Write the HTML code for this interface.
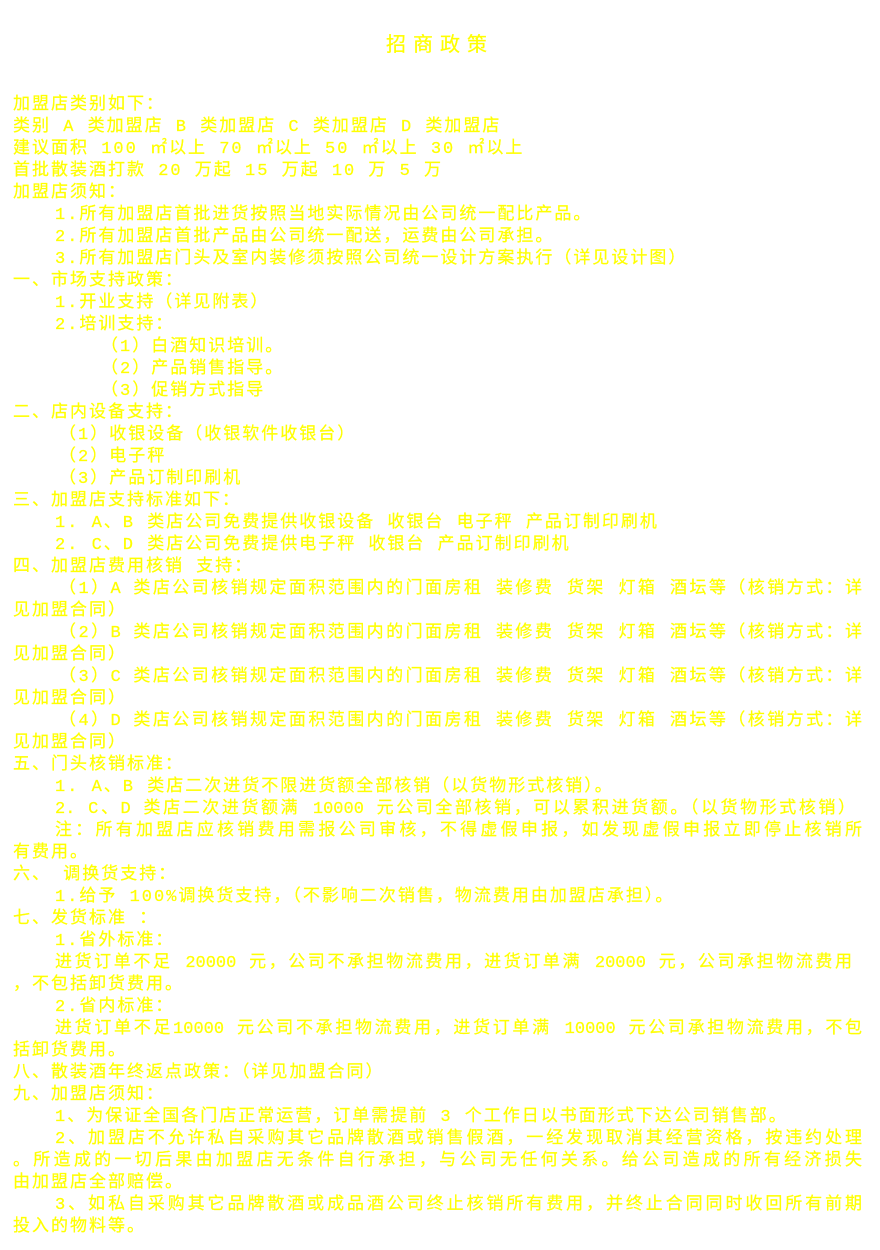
<!DOCTYPE html>
<html><head><meta charset="utf-8"><style>
html,body{margin:0;padding:0;background:#fff;}
body{width:880px;height:1250px;overflow:hidden;position:relative;font-family:"Liberation Mono","WenQuanYi Zen Hei","Noto Sans CJK SC",monospace;color:#ffff00;font-size:17px;-webkit-text-stroke:0.2px #ffff00;}
.t{position:absolute;top:34px;left:0;width:880px;text-align:center;font-size:20px;letter-spacing:7px;line-height:26px;}
.c{position:absolute;top:95px;left:13px;width:849px;line-height:22px;}
.c div{white-space:nowrap;height:22px;letter-spacing:2px;}
.c .j{text-align:justify;text-align-last:justify;letter-spacing:0;}
.i1{padding-left:42px;}.i2{padding-left:88px;}.i3{padding-left:46px;}
</style></head><body>
<div class="t">招商政策</div>
<div class="c">
<div>加盟店类别如下：</div>
<div>类别 A 类加盟店 B 类加盟店 C 类加盟店 D 类加盟店</div>
<div>建议面积 100 ㎡以上 70 ㎡以上 50 ㎡以上 30 ㎡以上</div>
<div>首批散装酒打款 20 万起 15 万起 10 万 5 万</div>
<div>加盟店须知：</div>
<div class="i1">1.所有加盟店首批进货按照当地实际情况由公司统一配比产品。</div>
<div class="i1">2.所有加盟店首批产品由公司统一配送，运费由公司承担。</div>
<div class="i1">3.所有加盟店门头及室内装修须按照公司统一设计方案执行（详见设计图）</div>
<div>一、市场支持政策：</div>
<div class="i1">1.开业支持（详见附表）</div>
<div class="i1">2.培训支持：</div>
<div class="i2">（1）白酒知识培训。</div>
<div class="i2">（2）产品销售指导。</div>
<div class="i2">（3）促销方式指导</div>
<div>二、店内设备支持：</div>
<div class="i3">（1）收银设备（收银软件收银台）</div>
<div class="i3">（2）电子秤</div>
<div class="i3">（3）产品订制印刷机</div>
<div>三、加盟店支持标准如下：</div>
<div class="i1">1. A、B 类店公司免费提供收银设备 收银台 电子秤 产品订制印刷机</div>
<div class="i1">2. C、D 类店公司免费提供电子秤 收银台 产品订制印刷机</div>
<div>四、加盟店费用核销 支持：</div>
<div class="j i3">（1）A 类店公司核销规定面积范围内的门面房租 装修费 货架 灯箱 酒坛等（核销方式：详</div>
<div>见加盟合同）</div>
<div class="j i3">（2）B 类店公司核销规定面积范围内的门面房租 装修费 货架 灯箱 酒坛等（核销方式：详</div>
<div>见加盟合同）</div>
<div class="j i3">（3）C 类店公司核销规定面积范围内的门面房租 装修费 货架 灯箱 酒坛等（核销方式：详</div>
<div>见加盟合同）</div>
<div class="j i3">（4）D 类店公司核销规定面积范围内的门面房租 装修费 货架 灯箱 酒坛等（核销方式：详</div>
<div>见加盟合同）</div>
<div>五、门头核销标准：</div>
<div class="i1">1. A、B 类店二次进货不限进货额全部核销（以货物形式核销）。</div>
<div class="j i1" style="width:800px">2. C、D 类店二次进货额满 10000 元公司全部核销，可以累积进货额。（以货物形式核销）</div>
<div class="j i1">注：所有加盟店应核销费用需报公司审核，不得虚假申报，如发现虚假申报立即停止核销所</div>
<div>有费用。</div>
<div>六、 调换货支持：</div>
<div class="i1">1.给予 100%调换货支持，（不影响二次销售，物流费用由加盟店承担）。</div>
<div>七、发货标准 ：</div>
<div class="i1">1.省外标准：</div>
<div class="j i1" style="width:797px">进货订单不足 20000 元，公司不承担物流费用，进货订单满 20000 元，公司承担物流费用</div>
<div>，不包括卸货费用。</div>
<div class="i1">2.省内标准：</div>
<div class="j i1">进货订单不足10000 元公司不承担物流费用，进货订单满 10000 元公司承担物流费用，不包</div>
<div>括卸货费用。</div>
<div>八、散装酒年终返点政策：（详见加盟合同）</div>
<div>九、加盟店须知：</div>
<div class="i1">1、为保证全国各门店正常运营，订单需提前 3 个工作日以书面形式下达公司销售部。</div>
<div class="j i1">2、加盟店不允许私自采购其它品牌散酒或销售假酒，一经发现取消其经营资格，按违约处理</div>
<div class="j">。所造成的一切后果由加盟店无条件自行承担，与公司无任何关系。给公司造成的所有经济损失</div>
<div>由加盟店全部赔偿。</div>
<div class="j i1">3、如私自采购其它品牌散酒或成品酒公司终止核销所有费用，并终止合同同时收回所有前期</div>
<div>投入的物料等。</div>
</div>
</body></html>
